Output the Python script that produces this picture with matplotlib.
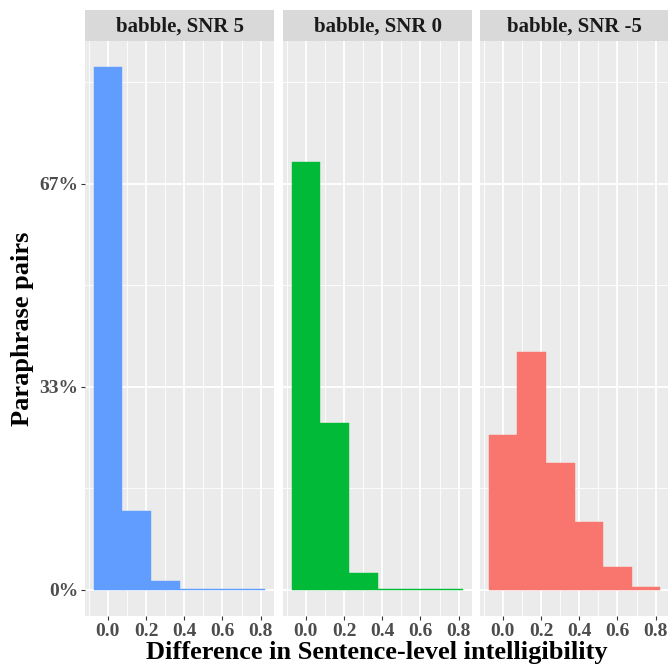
import numpy as np
import matplotlib
matplotlib.use("Agg")
import matplotlib.pyplot as plt
from matplotlib.ticker import FixedLocator, FuncFormatter

plt.rcParams["font.family"] = ["Liberation Serif", "DejaVu Serif"]
plt.rcParams["font.weight"] = "bold"

# histogram data (share of paraphrase pairs per bin, bin width 0.15)
bin_centers = [0.0, 0.15, 0.3, 0.45, 0.6, 0.75]
snr5 = [0.858, 0.130, 0.014, 0.0015, 0.0015, 0.0015]
snr0 = [0.702, 0.274, 0.027, 0.0015, 0.0015, 0.0015]
snr_m5 = [0.254, 0.391, 0.208, 0.111, 0.037, 0.004]

facets = ["babble, SNR 5", "babble, SNR 0", "babble, SNR -5"]
series = [snr5, snr0, snr_m5]
colors = ["#619CFF", "#00BA38", "#F8766D"]
bin_width = 0.15

y_ticks = [0, 1 / 3, 2 / 3]
y_labels = ["0%", "33%", "67%"]
x_ticks = [0.0, 0.2, 0.4, 0.6, 0.8]

W, H = 668, 666
fig = plt.figure(figsize=(W / 100, H / 100), dpi=100)

panel_left = [85, 283, 480]
panel_w = 189
panel_top, panel_bottom = 41, 616
strip_top = 10

ymax = max(max(s) for s in series)
ylim = (-0.05 * ymax, 1.05 * ymax)
xlim = (-0.12, 0.87)

for i, (name, vals, col) in enumerate(zip(facets, series, colors)):
    l = panel_left[i] / W
    b = 1 - panel_bottom / H
    ax = fig.add_axes([l, b, panel_w / W, (panel_bottom - panel_top) / H])
    ax.set_facecolor("#EBEBEB")
    for s in ax.spines.values():
        s.set_visible(False)

    ax.bar(bin_centers, vals, width=bin_width, color=col,
           edgecolor=col, linewidth=0.3, zorder=3)

    ax.set_xlim(*xlim)
    ax.set_ylim(*ylim)
    ax.xaxis.set_major_locator(FixedLocator(x_ticks))
    ax.xaxis.set_minor_locator(FixedLocator([-0.1, 0.1, 0.3, 0.5, 0.7]))
    ax.yaxis.set_major_locator(FixedLocator(y_ticks))
    ax.yaxis.set_minor_locator(FixedLocator([1 / 6, 0.5, 5 / 6]))
    ax.xaxis.set_major_formatter(FuncFormatter(lambda v, _: f"{v:.1f}"))
    ax.grid(True, which="major", color="white", linewidth=1.3, zorder=0)
    ax.grid(True, which="minor", color="white", linewidth=0.6, zorder=0)
    ax.set_axisbelow(True)
    ax.tick_params(which="minor", length=0)
    ax.tick_params(which="major", length=3, width=0.8, color="#333333",
                   labelsize=14, labelcolor="#4D4D4D", pad=2)

    if i == 0:
        ax.set_yticklabels(y_labels)
    else:
        ax.tick_params(axis="y", length=0, labelleft=False)

    # facet strip
    sax = fig.add_axes([l, 1 - panel_top / H, panel_w / W, (panel_top - strip_top) / H])
    sax.set_facecolor("#D9D9D9")
    sax.set_xticks([])
    sax.set_yticks([])
    for s in sax.spines.values():
        s.set_visible(False)
    sax.text(0.5, 0.47, name, ha="center", va="center", fontsize=15,
             fontweight="bold", color="#1A1A1A", transform=sax.transAxes)

fig.text(0.5 * (85 + 668) / W, 1 - 653 / H, "Difference in Sentence-level intelligibility",
         ha="center", va="center", fontsize=19, fontweight="bold")
fig.text(22 / W, 1 - 329 / H, "Paraphrase pairs", ha="center", va="center",
         rotation=90, fontsize=19, fontweight="bold")

fig.savefig("out.png", dpi=100)
